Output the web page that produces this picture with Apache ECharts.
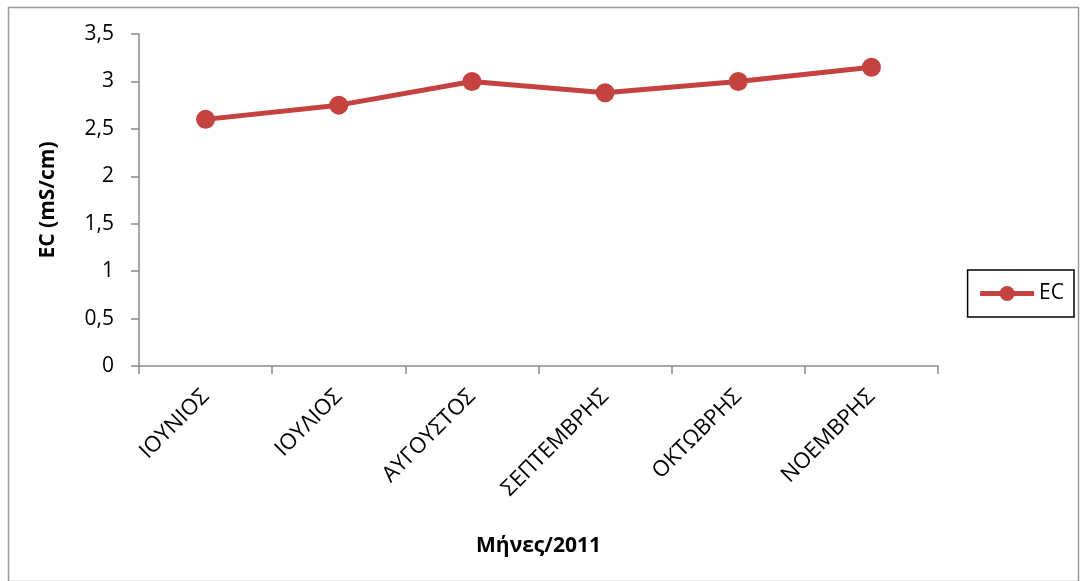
<!DOCTYPE html>
<html>
<head>
<meta charset="utf-8">
<script src="https://cdn.jsdelivr.net/npm/echarts@6/dist/echarts.min.js"></script>
<style>
  html, body { margin: 0; padding: 0; background: #fff; }
  #chart { width: 1081px; height: 581px; }
</style>
</head>
<body>
<div id="chart"></div>
<script>
// Monthly electrical conductivity, 2011
const months = ['ΙΟΥΝΙΟΣ', 'ΙΟΥΛΙΟΣ', 'ΑΥΓΟΥΣΤΟΣ', 'ΣΕΠΤΕΜΒΡΗΣ', 'ΟΚΤΩΒΡΗΣ', 'ΝΟΕΜΒΡΗΣ'];
const ecValues = [2.6, 2.75, 3.0, 2.88, 3.0, 3.15];
const seriesName = 'EC';
const yAxisTitle = 'EC (mS/cm)';
const xAxisTitle = 'Μήνες/2011';

const FONT = '"Open Sans", "Noto Sans", sans-serif';
const RED = '#c4423f';
const AXIS = '#8a8a8a';

const chart = echarts.init(document.getElementById('chart'), null, { renderer: 'canvas' });

chart.setOption({
  backgroundColor: '#ffffff',
  animation: false,
  textStyle: { fontFamily: FONT, color: '#000' },
  graphic: [{
    type: 'rect',
    left: 6, top: 5,
    shape: { width: 1070, height: 574 },
    style: { fill: 'none', stroke: '#9a9a9a', lineWidth: 1.5 },
    silent: true
  }],
  grid: { left: 139, right: 143, top: 34, bottom: 215 },
  legend: {
    right: 7, top: 270,
    orient: 'vertical',
    padding: [13, 10, 13, 10],
    borderColor: '#000', borderWidth: 1.5,
    itemWidth: 54, itemHeight: 19,
    itemGap: 4,
    lineStyle: { width: 5 },
    textStyle: { fontFamily: FONT, fontSize: 21, color: '#000' },
    data: [seriesName]
  },
  xAxis: {
    type: 'category',
    data: months,
    boundaryGap: true,
    name: xAxisTitle,
    nameLocation: 'middle',
    nameGap: 170,
    nameTextStyle: { fontFamily: FONT, fontSize: 21, fontWeight: 'bold', color: '#000' },
    axisLine: { lineStyle: { color: AXIS, width: 1.5 } },
    axisTick: { show: true, alignWithLabel: false, length: 8, lineStyle: { color: AXIS, width: 1.5 } },
    axisLabel: { rotate: 45, margin: 27, fontFamily: FONT, fontSize: 22, color: '#000' },
    splitLine: { show: false }
  },
  yAxis: {
    type: 'value',
    min: 0, max: 3.5, interval: 0.5,
    name: yAxisTitle,
    nameLocation: 'middle',
    nameGap: 80,
    nameRotate: 90,
    nameTextStyle: { fontFamily: FONT, fontSize: 21, fontWeight: 'bold', color: '#000' },
    axisLine: { show: true, lineStyle: { color: AXIS, width: 1.5 } },
    axisTick: { show: true, length: 8, lineStyle: { color: AXIS, width: 1.5 } },
    axisLabel: {
      margin: 25, fontFamily: FONT, fontSize: 21, color: '#000',
      formatter: v => String(v).replace('.', ',')
    },
    splitLine: { show: false }
  },
  series: [{
    name: seriesName,
    type: 'line',
    data: ecValues,
    symbol: 'circle',
    symbolSize: 19,
    lineStyle: { color: RED, width: 5 },
    itemStyle: { color: RED },
    z: 3
  }]
});
</script>
</body>
</html>
